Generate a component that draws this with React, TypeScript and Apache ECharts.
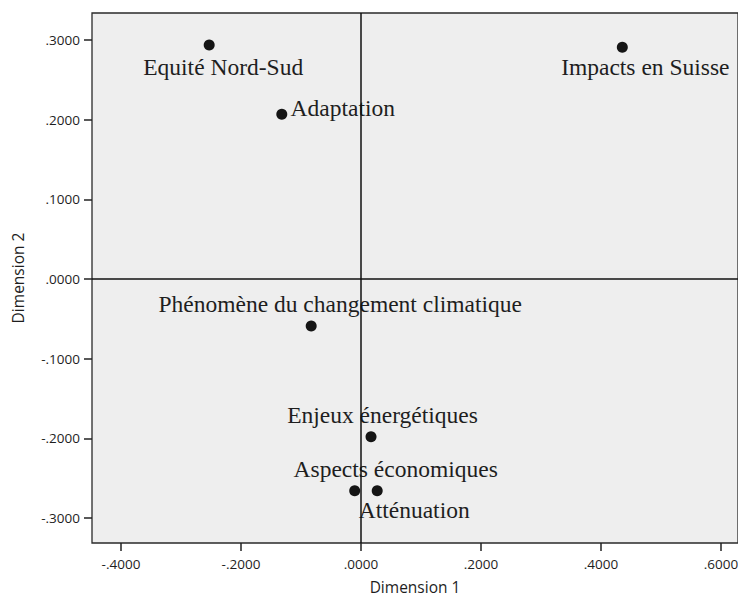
import React, { useEffect, useRef } from "react";
import * as echarts from "echarts";

const names = [
  "Equité Nord-Sud",
  "Adaptation",
  "Impacts en Suisse",
  "Phénomène du changement climatique",
  "Enjeux énergétiques",
  "Aspects économiques",
  "Atténuation",
];
const dim1 = [-0.253, -0.132, 0.4355, -0.083, 0.0167, -0.0105, 0.027];
const dim2 = [0.2936, 0.2066, 0.2907, -0.059, -0.198, -0.2656, -0.2656];
const xTicks = [-0.4, -0.2, 0, 0.2, 0.4, 0.6];
const yTicks = [-0.3, -0.2, -0.1, 0, 0.1, 0.2, 0.3];

// label centre offsets relative to each point (styling)
const labelOffsets: [number, number][] = [
  [14, 22],
  [61, -6],
  [23, 20],
  [29, -22],
  [11.5, -22],
  [41, -22],
  [37, 19],
];

const fmt = (v: number) => {
  const s = Math.abs(v) < 1e-9 ? "0.0000" : v.toFixed(4);
  return s.replace(/^(-?)0\./, "$1.");
};

export default function App() {
  const ref = useRef<HTMLDivElement>(null);
  useEffect(() => {
    if (!ref.current) return;
    const chart = echarts.init(ref.current, undefined, { renderer: "svg" });
    const tickFont = { fontFamily: "Open Sans", fontSize: 13.5, color: "#1e1e1e" };
    const nameFont = { fontFamily: "Open Sans", fontSize: 15.5, color: "#1e1e1e" };
    chart.setOption({
      animation: false,
      backgroundColor: "#ffffff",
      grid: {
        left: 92,
        right: 0,
        top: 13,
        bottom: 61,
        show: true,
        containLabel: false,
        outerBoundsMode: "none",
        backgroundColor: "#eeeeee",
        borderColor: "#2a2a2a",
        borderWidth: 1.3,
      },
      xAxis: {
        type: "value",
        min: -0.4483,
        max: 0.6283,
        name: "Dimension 1",
        nameLocation: "middle",
        nameGap: 36,
        nameTextStyle: nameFont,
        axisLine: { show: false, onZero: false },
        splitLine: { show: false },
        axisTick: {
          show: true,
          customValues: xTicks,
          length: 8,
          lineStyle: { color: "#222", width: 1.5 },
        },
        axisLabel: { ...tickFont, customValues: xTicks, margin: 14, formatter: fmt },
      },
      yAxis: {
        type: "value",
        min: -0.3312,
        max: 0.3337,
        name: "Dimension 2",
        nameLocation: "middle",
        nameGap: 66,
        nameTextStyle: nameFont,
        axisLine: { show: false, onZero: false },
        splitLine: { show: false },
        axisTick: {
          show: true,
          customValues: yTicks,
          length: 8,
          lineStyle: { color: "#222", width: 1.5 },
        },
        axisLabel: { ...tickFont, customValues: yTicks, margin: 12, formatter: fmt },
      },
      series: [
        {
          type: "scatter",
          symbol: "circle",
          symbolSize: 11,
          itemStyle: { color: "#151515", opacity: 1 },
          data: names.map((n, i) => ({
            name: n,
            value: [dim1[i], dim2[i]],
            label: {
              show: true,
              position: "inside",
              offset: labelOffsets[i],
              align: "center",
              verticalAlign: "middle",
              formatter: "{b}",
              fontFamily: "Liberation Serif",
              fontSize: 23.5,
              color: "#1e1e1e",
            },
          })),
          markLine: {
            silent: true,
            symbol: ["none", "none"],
            label: { show: false },
            lineStyle: { color: "#111", width: 1.5, type: "solid" },
            data: [{ xAxis: 0 }, { yAxis: 0 }],
          },
        },
      ],
    });
    return () => chart.dispose();
  }, []);
  return (
    <div
      ref={ref}
      style={{ position: "absolute", left: 0, top: 0, width: 738, height: 604 }}
    />
  );
}
